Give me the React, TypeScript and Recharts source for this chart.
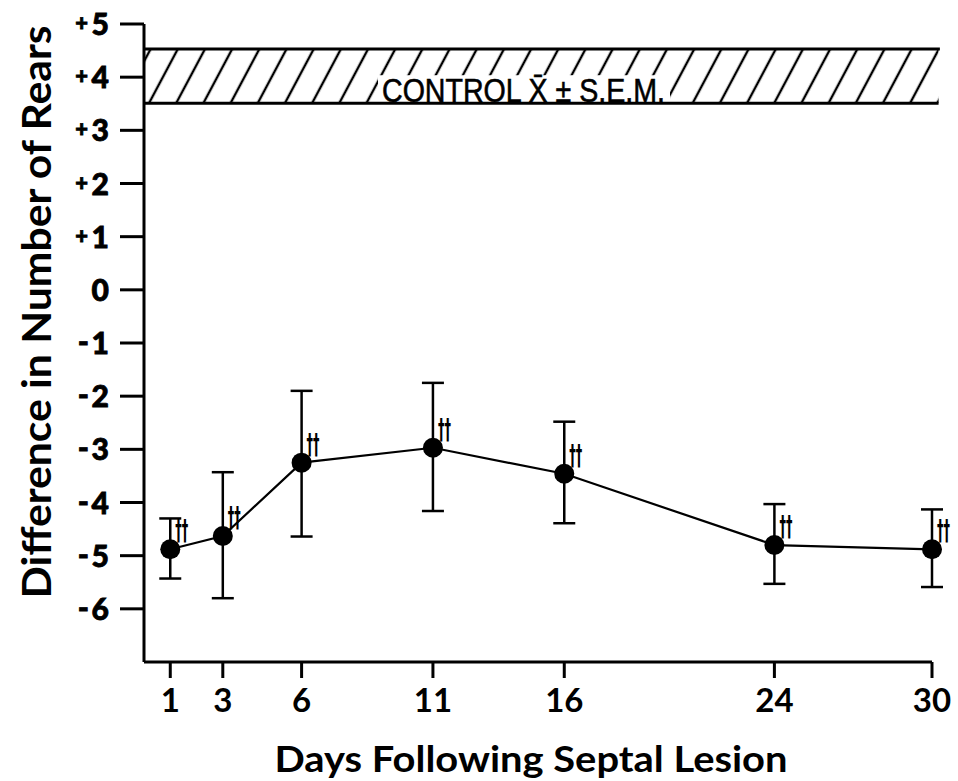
import React from 'react';
import { LineChart, Line, XAxis, YAxis, ErrorBar, ReferenceArea, ReferenceLine } from 'recharts';

// ---- data ----
const days = [1, 3, 6, 11, 16, 24, 30];
const meanDiff = [-4.88, -4.63, -3.25, -2.97, -3.46, -4.8, -4.88];
const upperBound = [-4.3, -3.43, -1.9, -1.75, -2.48, -4.03, -4.13];
const lowerBound = [-5.43, -5.8, -4.64, -4.16, -4.39, -5.53, -5.59];
const significance = ['††', '††', '††', '††', '††', '††', '††'];

const xTicks = [1, 3, 6, 11, 16, 24, 30];
const xTickLabels = ['1', '3', '6', '11', '16', '24', '30'];
const yTicks = [5, 4, 3, 2, 1, 0, -1, -2, -3, -4, -5, -6];
const yTickLabels = ['+5', '+4', '+3', '+2', '+1', '0', '-1', '-2', '-3', '-4', '-5', '-6'];

const controlUpper = 4.53;
const controlLower = 3.51;
const controlText = 'CONTROL  X\u0304 \u00B1 S.E.M.';
const xTitle = 'Days Following Septal Lesion';
const yTitle = 'Difference in Number of Rears';

const data = days.map((d, i) => ({
  day: d,
  mean: meanDiff[i],
  err: [meanDiff[i] - lowerBound[i], upperBound[i] - meanDiff[i]],
}));

const FONT = "Lato, 'DejaVu Sans', sans-serif";

const YTick = (props: any) => {
  const { x, y, payload } = props;
  const idx = yTicks.indexOf(payload.value);
  const label = idx >= 0 ? yTickLabels[idx] : String(payload.value);
  const sign = label[0] === '+' || label[0] === '-' ? label[0] : '';
  const num = sign ? label.slice(1) : label;
  return (
    <g>
      <text x={x} y={y + 11} textAnchor="end" fontFamily={FONT} fontWeight={900} fontSize={30} fill="#000"
        stroke="#000" strokeWidth={0.8}>
        {num}
      </text>
      {sign === '+' && (
        <text x={x - 21} y={y + 7} textAnchor="end" fontFamily={FONT} fontWeight={900} fontSize={22} fill="#000"
          stroke="#000" strokeWidth={0.8}>
          +
        </text>
      )}
      {sign === '-' && (
        <text x={x - 20} y={y + 10} textAnchor="end" fontFamily={FONT} fontWeight={900} fontSize={30} fill="#000"
          stroke="#000" strokeWidth={0.8}>
          -
        </text>
      )}
    </g>
  );
};

const XTick = (props: any) => {
  const { x, y, payload } = props;
  const idx = xTicks.indexOf(payload.value);
  const label = idx >= 0 ? xTickLabels[idx] : String(payload.value);
  return (
    <text x={x} y={y + 34} textAnchor="middle" fontFamily={FONT} fontWeight={700} fontSize={33} fill="#000">
      {label}
    </text>
  );
};

const XTitle = (props: any) => {
  const { viewBox } = props;
  const cx = viewBox.x + viewBox.width / 2 - 7;
  return (
    <text x={cx} y={772} textAnchor="middle" fontFamily={FONT} fontWeight={700} fontSize={37} fill="#000"
      textLength={513} lengthAdjust="spacingAndGlyphs">
      {xTitle}
    </text>
  );
};

const YTitle = () => {
  return (
    <text x={0} y={0} transform="translate(51,312) rotate(-90)" textAnchor="middle" fontFamily={FONT}
      fontWeight={700} fontSize={40} fill="#000" textLength={573} lengthAdjust="spacingAndGlyphs">
      {yTitle}
    </text>
  );
};

const ControlLabel = (props: any) => {
  const { viewBox } = props;
  const bottom = viewBox.y + viewBox.height;
  const left = viewBox.x + 234;
  return (
    <g>
      <rect x={left} y={bottom - 28} width={292} height={27} fill="#fff" />
      <text x={left + 4} y={bottom - 1} fontFamily="'Liberation Sans Narrow', 'Liberation Sans', sans-serif"
        fontSize={34} fill="#000" stroke="#000" strokeWidth={0.6} textLength={283} lengthAdjust="spacingAndGlyphs">
        {controlText}
      </text>
    </g>
  );
};

const Dot = (props: any) => {
  const { cx, cy, index } = props;
  return (
    <g key={`dot-${index}`}>
      <circle cx={cx} cy={cy} r={10} fill="#000" />
      <text transform={`translate(${cx + 5},${cy - 9}) scale(0.72,1.6)`} x={0} y={0}
        fontFamily="'DejaVu Sans', sans-serif" fontWeight={700} fontSize={18} fill="#000">
        {significance[index]}
      </text>
    </g>
  );
};

export default function App() {
  return (
    <div style={{ position: 'absolute', left: 0, top: 0, width: 958, height: 781, background: '#fff' }}>
      <LineChart width={958} height={781} data={data} margin={{ top: 24, right: 26, bottom: 0, left: 0 }}>
        <defs>
          <pattern id="hatch" patternUnits="userSpaceOnUse" width={24} height={20} patternTransform="rotate(28)">
            <line x1={12} y1={-5} x2={12} y2={25} stroke="#000" strokeWidth={2.4} />
          </pattern>
        </defs>
        <XAxis
          dataKey="day"
          type="number"
          domain={[0, 30]}
          ticks={xTicks}
          height={119}
          tickSize={16}
          tickMargin={0}
          axisLine={{ stroke: '#000', strokeWidth: 3 }}
          tickLine={{ stroke: '#000', strokeWidth: 3 }}
          tick={<XTick />}
          label={<XTitle />}
        />
        <YAxis
          type="number"
          domain={[-7, 5]}
          ticks={yTicks}
          width={144}
          tickSize={24}
          tickMargin={11}
          axisLine={{ stroke: '#000', strokeWidth: 3 }}
          tickLine={{ stroke: '#000', strokeWidth: 3 }}
          tick={<YTick />}
          label={<YTitle />}
        />
        <ReferenceArea
          x1={0}
          x2={30.25}
          y1={controlLower}
          y2={controlUpper}
          fill="url(#hatch)"
          fillOpacity={1}
          stroke="none"
          ifOverflow="visible"
          label={<ControlLabel />}
        />
        <ReferenceLine
          segment={[{ x: 0, y: controlUpper }, { x: 30.3, y: controlUpper }]}
          stroke="#000"
          strokeWidth={3}
          ifOverflow="visible"
        />
        <ReferenceLine
          segment={[{ x: 0, y: controlLower }, { x: 30.25, y: controlLower }]}
          stroke="#000"
          strokeWidth={3}
          ifOverflow="visible"
        />
        <Line
          dataKey="mean"
          type="linear"
          stroke="#000"
          strokeWidth={2.2}
          dot={<Dot />}
          activeDot={false}
          isAnimationActive={false}
        >
          <ErrorBar dataKey="err" width={11} strokeWidth={2.5} stroke="#000" direction="y" isAnimationActive={false} />
        </Line>
      </LineChart>
    </div>
  );
}
